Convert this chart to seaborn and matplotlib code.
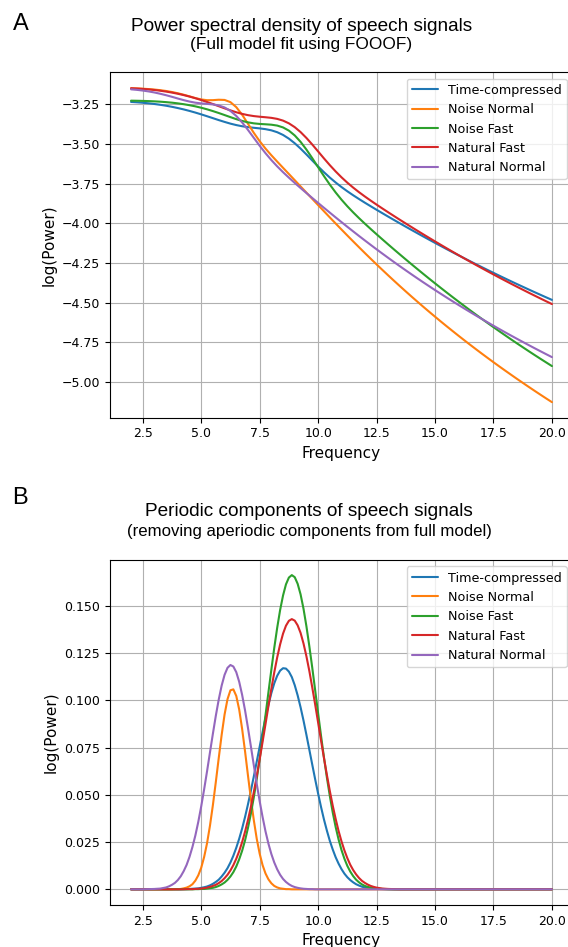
import matplotlib
matplotlib.use("Agg")
import matplotlib.pyplot as plt
import seaborn as sns
import pandas as pd

# ---------------- data ----------------
conditions = ["Time-compressed", "Noise Normal", "Noise Fast", "Natural Fast", "Natural Normal"]
colors = ["#1f77b4", "#ff7f0e", "#2ca02c", "#d62728", "#9467bd"]

# Panel A frequencies
freqs_a = [2.0, 2.25, 2.5, 2.75, 3.0, 3.25, 3.5, 3.75, 4.0, 4.25,
           4.5, 4.75, 5.0, 5.25, 5.5, 5.75, 6.0, 6.25, 6.5, 6.75,
           7.0, 7.25, 7.5, 7.75, 8.0, 8.25, 8.5, 8.75, 9.0, 9.25,
           9.5, 9.75, 10.0, 10.25, 10.5, 10.75, 11.0, 11.25, 11.5, 11.75,
           12.0, 12.25, 12.5, 12.75, 13.0, 13.25, 13.5, 13.75, 14.0, 14.25,
           14.5, 14.75, 15.0, 15.25, 15.5, 15.75, 16.0, 16.25, 16.5, 16.75,
           17.0, 17.25, 17.5, 17.75, 18.0, 18.25, 18.5, 18.75, 19.0, 19.25,
           19.5, 19.75, 20.0]

# Panel A: full model fit, log(Power)
full_time_compressed = [
    -3.2351, -3.2374, -3.2403, -3.2438, -3.2481, -3.2532, -3.2591, -3.2659, -3.2737, -3.2822,
    -3.2918, -3.3022, -3.3134, -3.3252, -3.3373, -3.3495, -3.3610, -3.3718, -3.3809, -3.3883,
    -3.3938, -3.3980, -3.4018, -3.4066, -3.4140, -3.4258, -3.4430, -3.4664, -3.4954, -3.5291,
    -3.5659, -3.6040, -3.6417, -3.6778, -3.7115, -3.7426, -3.7713, -3.7980, -3.8230, -3.8468,
    -3.8699, -3.8923, -3.9144, -3.9361, -3.9577, -3.9790, -4.0001, -4.0211, -4.0418, -4.0624,
    -4.0828, -4.1029, -4.1229, -4.1427, -4.1623, -4.1817, -4.2008, -4.2198, -4.2386, -4.2572,
    -4.2756, -4.2938, -4.3118, -4.3297, -4.3473, -4.3648, -4.3821, -4.3991, -4.4161, -4.4329,
    -4.4494, -4.4658, -4.4820]
full_noise_normal = [
    -3.1491, -3.1502, -3.1518, -3.1541, -3.1571, -3.1611, -3.1662, -3.1727, -3.1805, -3.1897,
    -3.2001, -3.2106, -3.2194, -3.2241, -3.2239, -3.2213, -3.2226, -3.2364, -3.2679, -3.3157,
    -3.3725, -3.4298, -3.4824, -3.5289, -3.5710, -3.6109, -3.6500, -3.6889, -3.7280, -3.7672,
    -3.8065, -3.8457, -3.8848, -3.9237, -3.9624, -4.0008, -4.0388, -4.0765, -4.1137, -4.1505,
    -4.1870, -4.2229, -4.2584, -4.2934, -4.3280, -4.3621, -4.3957, -4.4289, -4.4616, -4.4938,
    -4.5256, -4.5569, -4.5878, -4.6184, -4.6484, -4.6780, -4.7073, -4.7361, -4.7645, -4.7926,
    -4.8203, -4.8476, -4.8746, -4.9012, -4.9274, -4.9533, -4.9790, -5.0042, -5.0292, -5.0539,
    -5.0783, -5.1024, -5.1261]
full_noise_fast = [
    -3.2272, -3.2278, -3.2287, -3.2299, -3.2315, -3.2336, -3.2364, -3.2398, -3.2442, -3.2494,
    -3.2557, -3.2630, -3.2717, -3.2816, -3.2928, -3.3049, -3.3178, -3.3309, -3.3435, -3.3547,
    -3.3637, -3.3700, -3.3737, -3.3759, -3.3785, -3.3840, -3.3957, -3.4159, -3.4462, -3.4865,
    -3.5352, -3.5894, -3.6461, -3.7023, -3.7557, -3.8054, -3.8508, -3.8924, -3.9309, -3.9672,
    -4.0020, -4.0356, -4.0686, -4.1010, -4.1331, -4.1649, -4.1962, -4.2273, -4.2581, -4.2885,
    -4.3186, -4.3484, -4.3778, -4.4069, -4.4357, -4.4641, -4.4922, -4.5200, -4.5475, -4.5746,
    -4.6013, -4.6277, -4.6539, -4.6797, -4.7052, -4.7305, -4.7554, -4.7799, -4.8043, -4.8284,
    -4.8522, -4.8756, -4.8989]
full_natural_fast = [
    -3.1489, -3.1508, -3.1532, -3.1562, -3.1600, -3.1646, -3.1700, -3.1763, -3.1836, -3.1920,
    -3.2013, -3.2118, -3.2232, -3.2355, -3.2485, -3.2619, -3.2754, -3.2883, -3.3002, -3.3103,
    -3.3184, -3.3243, -3.3283, -3.3316, -3.3354, -3.3419, -3.3528, -3.3699, -3.3940, -3.4250,
    -3.4621, -3.5034, -3.5470, -3.5908, -3.6332, -3.6730, -3.7099, -3.7437, -3.7748, -3.8037,
    -3.8308, -3.8568, -3.8819, -3.9064, -3.9305, -3.9542, -3.9778, -4.0010, -4.0240, -4.0468,
    -4.0693, -4.0916, -4.1137, -4.1355, -4.1572, -4.1786, -4.1997, -4.2206, -4.2412, -4.2618,
    -4.2820, -4.3020, -4.3218, -4.3414, -4.3608, -4.3800, -4.3989, -4.4176, -4.4362, -4.4545,
    -4.4726, -4.4906, -4.5083]
full_natural_normal = [
    -3.1558, -3.1591, -3.1635, -3.1689, -3.1756, -3.1837, -3.1929, -3.2029, -3.2136, -3.2238,
    -3.2328, -3.2398, -3.2445, -3.2475, -3.2507, -3.2572, -3.2699, -3.2916, -3.3234, -3.3642,
    -3.4113, -3.4613, -3.5110, -3.5580, -3.6013, -3.6410, -3.6776, -3.7121, -3.7452, -3.7774,
    -3.8090, -3.8402, -3.8713, -3.9019, -3.9323, -3.9624, -3.9922, -4.0216, -4.0506, -4.0794,
    -4.1077, -4.1357, -4.1634, -4.1906, -4.2175, -4.2441, -4.2703, -4.2961, -4.3216, -4.3468,
    -4.3716, -4.3960, -4.4202, -4.4440, -4.4675, -4.4907, -4.5136, -4.5361, -4.5584, -4.5804,
    -4.6021, -4.6235, -4.6447, -4.6656, -4.6863, -4.7066, -4.7267, -4.7466, -4.7662, -4.7857,
    -4.8048, -4.8238, -4.8425]

# Panel B frequencies (denser where the peaks are)
freqs_b = [2.0, 2.5, 3.0, 3.25,
           3.5, 3.625, 3.75, 3.875, 4.0, 4.125, 4.25, 4.375,
           4.5, 4.625, 4.75, 4.875, 5.0, 5.125, 5.25, 5.375,
           5.5, 5.625, 5.75, 5.875, 6.0, 6.125, 6.25, 6.375,
           6.5, 6.625, 6.75, 6.875, 7.0, 7.125, 7.25, 7.375,
           7.5, 7.625, 7.75, 7.875, 8.0, 8.125, 8.25, 8.375,
           8.5, 8.625, 8.75, 8.875, 9.0, 9.125, 9.25, 9.375,
           9.5, 9.625, 9.75, 9.875, 10.0, 10.125, 10.25, 10.375,
           10.5, 10.625, 10.75, 10.875, 11.0, 11.125, 11.25, 11.375,
           11.5, 11.625, 11.75, 11.875, 12.0, 12.125, 12.25, 12.375,
           12.5,
           12.75, 13.0, 13.25, 13.5, 14.0, 15.0, 16.0, 17.0, 18.0, 19.0, 20.0]

# Panel B: periodic components
per_time_compressed = [
    0, 0, 0, 0,
    0, 0, 0, 0, 0.0000, 0.0000, 0.0001, 0.0001,
    0.0002, 0.0003, 0.0004, 0.0005, 0.0008, 0.0011, 0.0015, 0.0021,
    0.0029, 0.0039, 0.0051, 0.0068, 0.0088, 0.0112, 0.0142, 0.0178,
    0.0220, 0.0268, 0.0322, 0.0383, 0.0450, 0.0522, 0.0598, 0.0676,
    0.0755, 0.0833, 0.0908, 0.0977, 0.1039, 0.1091, 0.1131, 0.1158,
    0.1171, 0.1169, 0.1153, 0.1124, 0.1081, 0.1027, 0.0964, 0.0894,
    0.0818, 0.0739, 0.0660, 0.0582, 0.0507, 0.0436, 0.0370, 0.0311,
    0.0257, 0.0211, 0.0170, 0.0136, 0.0107, 0.0083, 0.0064, 0.0049,
    0.0037, 0.0027, 0.0020, 0.0014, 0.0010, 0.0007, 0.0005, 0.0003,
    0.0002,
    0.0001, 0, 0, 0, 0, 0, 0, 0, 0, 0, 0]
per_noise_normal = [
    0, 0, 0, 0,
    0, 0.0000, 0.0000, 0.0001, 0.0001, 0.0002, 0.0005, 0.0009,
    0.0016, 0.0027, 0.0046, 0.0074, 0.0114, 0.0171, 0.0244, 0.0337,
    0.0446, 0.0568, 0.0695, 0.0818, 0.0926, 0.1007, 0.1054, 0.1059,
    0.1024, 0.0952, 0.0850, 0.0731, 0.0603, 0.0479, 0.0366, 0.0268,
    0.0189, 0.0128, 0.0084, 0.0053, 0.0032, 0.0018, 0.0010, 0.0005,
    0.0003, 0.0001, 0.0001, 0, 0, 0, 0, 0,
    0, 0, 0, 0, 0, 0, 0, 0,
    0, 0, 0, 0, 0, 0, 0, 0,
    0, 0, 0, 0, 0, 0, 0, 0,
    0,
    0, 0, 0, 0, 0, 0, 0, 0, 0, 0, 0]
per_noise_fast = [
    0, 0, 0, 0,
    0, 0, 0, 0, 0, 0, 0, 0.0000,
    0.0000, 0.0000, 0.0001, 0.0001, 0.0002, 0.0002, 0.0004, 0.0006,
    0.0008, 0.0012, 0.0018, 0.0026, 0.0036, 0.0050, 0.0068, 0.0091,
    0.0121, 0.0159, 0.0204, 0.0259, 0.0325, 0.0401, 0.0487, 0.0584,
    0.0690, 0.0803, 0.0922, 0.1043, 0.1163, 0.1279, 0.1385, 0.1479,
    0.1556, 0.1615, 0.1651, 0.1664, 0.1653, 0.1618, 0.1562, 0.1486,
    0.1393, 0.1287, 0.1173, 0.1053, 0.0932, 0.0813, 0.0699, 0.0592,
    0.0495, 0.0407, 0.0330, 0.0264, 0.0208, 0.0162, 0.0124, 0.0094,
    0.0070, 0.0051, 0.0037, 0.0026, 0.0018, 0.0013, 0.0009, 0.0006,
    0.0004,
    0.0002, 0.0001, 0, 0, 0, 0, 0, 0, 0, 0, 0]
per_natural_fast = [
    0, 0, 0, 0,
    0, 0, 0, 0.0000, 0.0000, 0.0000, 0.0000, 0.0001,
    0.0001, 0.0001, 0.0002, 0.0003, 0.0004, 0.0006, 0.0009, 0.0013,
    0.0018, 0.0024, 0.0033, 0.0044, 0.0059, 0.0077, 0.0100, 0.0128,
    0.0162, 0.0202, 0.0250, 0.0305, 0.0367, 0.0437, 0.0515, 0.0599,
    0.0688, 0.0781, 0.0875, 0.0970, 0.1062, 0.1149, 0.1228, 0.1297,
    0.1354, 0.1396, 0.1422, 0.1431, 0.1423, 0.1398, 0.1358, 0.1302,
    0.1234, 0.1156, 0.1069, 0.0978, 0.0883, 0.0788, 0.0695, 0.0606,
    0.0521, 0.0443, 0.0373, 0.0309, 0.0254, 0.0206, 0.0165, 0.0130,
    0.0102, 0.0079, 0.0060, 0.0045, 0.0034, 0.0025, 0.0018, 0.0013,
    0.0009,
    0.0004, 0.0002, 0.0001, 0, 0, 0, 0, 0, 0, 0, 0]
per_natural_normal = [
    0, 0, 0.0002, 0.0004,
    0.0010, 0.0016, 0.0024, 0.0034, 0.0049, 0.0069, 0.0096, 0.0129,
    0.0172, 0.0224, 0.0285, 0.0357, 0.0439, 0.0529, 0.0625, 0.0725,
    0.0824, 0.0919, 0.1005, 0.1079, 0.1136, 0.1173, 0.1188, 0.1180,
    0.1150, 0.1099, 0.1030, 0.0948, 0.0855, 0.0757, 0.0657, 0.0559,
    0.0467, 0.0383, 0.0307, 0.0242, 0.0187, 0.0142, 0.0106, 0.0077,
    0.0055, 0.0039, 0.0027, 0.0018, 0.0012, 0.0008, 0.0005, 0.0003,
    0.0002, 0.0001, 0.0001, 0, 0, 0, 0, 0,
    0, 0, 0, 0, 0, 0, 0, 0,
    0, 0, 0, 0, 0, 0, 0, 0,
    0,
    0, 0, 0, 0, 0, 0, 0, 0, 0, 0, 0]

full_series = [full_time_compressed, full_noise_normal, full_noise_fast,
               full_natural_fast, full_natural_normal]
per_series = [per_time_compressed, per_noise_normal, per_noise_fast,
              per_natural_fast, per_natural_normal]

x_ticks = [2.5, 5.0, 7.5, 10.0, 12.5, 15.0, 17.5, 20.0]
yticks_a = [-5.00, -4.75, -4.50, -4.25, -4.00, -3.75, -3.50, -3.25]
ylabels_a = ["\u22125.00", "\u22124.75", "\u22124.50", "\u22124.25",
             "\u22124.00", "\u22123.75", "\u22123.50", "\u22123.25"]
yticks_b = [0.000, 0.025, 0.050, 0.075, 0.100, 0.125, 0.150]
ylabels_b = ["0.000", "0.025", "0.050", "0.075", "0.100", "0.125", "0.150"]

# ---------------- style ----------------
sns.set_theme(style="ticks", rc={
    "axes.grid": True,
    "grid.color": "#b0b0b0",
    "grid.linewidth": 0.8,
    "axes.edgecolor": "black",
    "axes.linewidth": 0.8,
    "xtick.color": "black",
    "ytick.color": "black",
    "xtick.major.size": 3.5,
    "ytick.major.size": 3.5,
    "xtick.major.width": 0.8,
    "ytick.major.width": 0.8,
    "text.color": "black",
    "axes.labelcolor": "black",
})
plt.rcParams["font.family"] = ["DejaVu Sans"]

W, H = 568, 947
fig = plt.figure(figsize=(W / 100, H / 100), dpi=100)


def make_df(freqs, series_list):
    frames = []
    for name, vals in zip(conditions, series_list):
        frames.append(pd.DataFrame({"Frequency": freqs, "value": vals, "cond": name}))
    return pd.concat(frames, ignore_index=True)


def draw(ax, freqs, series_list, ylim, yticks, ylabels):
    df = make_df(freqs, series_list)
    sns.lineplot(data=df, x="Frequency", y="value", hue="cond",
                 hue_order=conditions, palette=colors, linewidth=1.5,
                 ax=ax, sort=True, estimator=None)
    ax.set_xlim(1.1, 20.9)
    ax.set_ylim(*ylim)
    ax.set_xticks(x_ticks)
    ax.set_yticks(yticks)
    ax.set_yticklabels(ylabels)
    ax.tick_params(labelsize=9, pad=3.5)
    ax.set_xlabel("Frequency", fontsize=11)
    ax.set_ylabel("log(Power)", fontsize=11)
    ax.grid(True, color="#b0b0b0", linewidth=0.8)
    handles, labels = ax.get_legend_handles_labels()
    ax.legend(handles, labels, loc="upper right", fontsize=9.2, frameon=True,
              framealpha=0.8, edgecolor="0.8", fancybox=True, title=None)


axA = fig.add_axes([110 / W, 1 - 417.7 / H, 463 / W, 345.4 / H])
draw(axA, freqs_a, full_series, (-5.224, -3.0485), yticks_a, ylabels_a)

axB = fig.add_axes([110 / W, 1 - 905 / H, 463 / W, 345 / H])
draw(axB, freqs_b, per_series, (-0.0083, 0.1744), yticks_b, ylabels_b)

tfont = ["Liberation Sans", "DejaVu Sans"]
fig.text(13 / W, 1 - 30.5 / H, "A", fontsize=17, family=tfont, ha="left", va="baseline")
fig.text(302 / W, 1 - 30.7 / H, "Power spectral density of speech signals",
         fontsize=13.7, family=tfont, ha="center", va="baseline")
fig.text(301 / W, 1 - 49.5 / H, "(Full model fit using FOOOF)",
         fontsize=12.4, family=tfont, ha="center", va="baseline")

fig.text(12 / W, 1 - 503.5 / H, "B", fontsize=17, family=tfont, ha="left", va="baseline")
fig.text(308.7 / W, 1 - 515.7 / H, "Periodic components of speech signals",
         fontsize=13.7, family=tfont, ha="center", va="baseline")
fig.text(309 / W, 1 - 536 / H, "(removing aperiodic components from full model)",
         fontsize=12.1, family=tfont, ha="center", va="baseline")

fig.savefig("out.png", dpi=100)
